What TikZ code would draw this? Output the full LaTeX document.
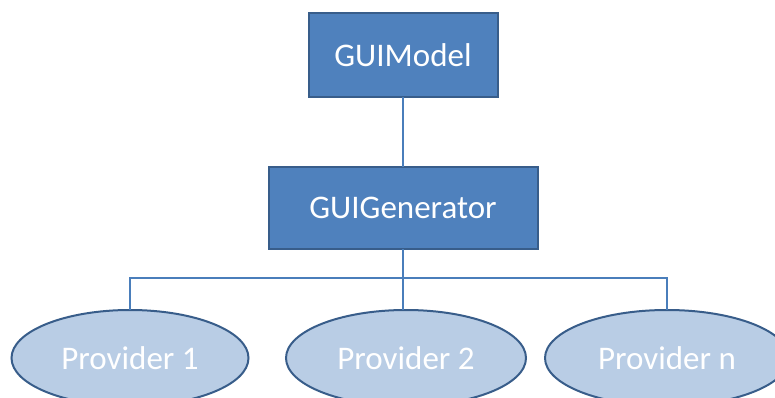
\documentclass[tikz,border=0pt]{standalone}
\usepackage{fontspec}
\setmainfont{Carlito}
\usetikzlibrary{shapes.geometric}

\definecolor{boxblue}{HTML}{4F81BD}
\definecolor{boxedge}{HTML}{385D8A}
\definecolor{provfill}{HTML}{B9CDE5}
\definecolor{linkblue}{HTML}{4A7EBB}

\tikzset{
  blockbox/.style={draw=boxedge, line width=2pt, fill=boxblue, text=white,
    inner sep=0pt, outer sep=0pt, font=\fontsize{33}{40}\selectfont},
  provider/.style={ellipse, draw=boxedge, line width=2pt, fill=provfill, text=white,
    inner sep=0pt, outer sep=0pt, minimum width=240pt, minimum height=96pt,
    font=\fontsize{33}{40}\selectfont},
  link/.style={draw=linkblue, line width=1.3pt}
}

\begin{document}
\begin{tikzpicture}[x=1pt,y=-1pt]
\clip (0,0) rectangle (775,398);

% draw the two boxes
\node[blockbox, minimum width=189pt, minimum height=84pt] (model) at (403,55) {GUIModel};
\node[blockbox, minimum width=269pt, minimum height=82pt] (gen) at (403,208) {GUIGenerator};

% draw the providers
\node[provider, minimum width=237pt] (prov1) at (130,358) {Provider 1};
\node[provider] (prov2) at (406,358) {Provider 2};
\node[provider, minimum width=244pt] (provn) at (667,358) {Provider n};

% draw the links
\coordinate (bus) at (403,278);
\draw[link] (model) -- (gen);
\draw[link] (gen.south) -- (bus);
\draw[link] (prov1.north) |- (bus) -| (provn.north);
\draw[link] (bus) -- (bus |- prov2.north);
\end{tikzpicture}
\end{document}
